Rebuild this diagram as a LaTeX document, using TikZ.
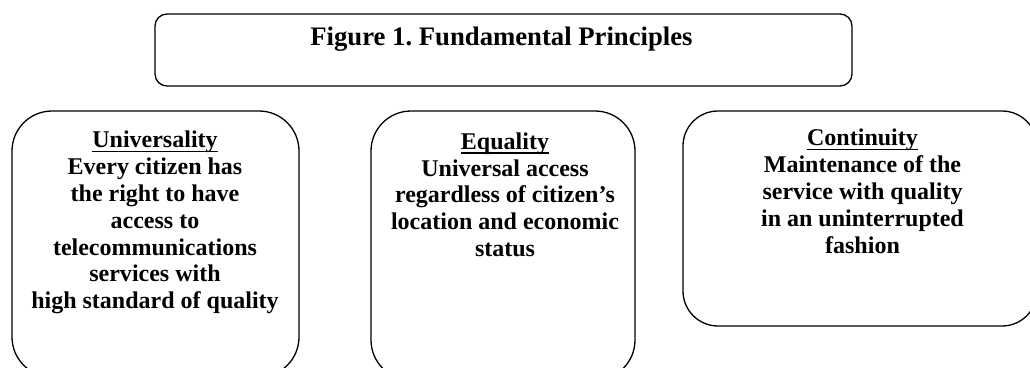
\documentclass[tikz,border=0pt]{standalone}
\usepackage{fontspec}
\setmainfont{Liberation Serif}
\frenchspacing
% underline drawn just below the baseline, crossing descenders
\newsavebox\ulbox
\newcommand\ulword[1]{\sbox\ulbox{#1}\rlap{\rule[-4.2pt]{\wd\ulbox}{1.4pt}}\usebox\ulbox}
\tikzset{
  card/.style={draw=black, line width=1.3pt, rounded corners=#1, inner sep=0pt, outer sep=0pt},
  body/.style={align=center, inner sep=0pt, anchor=north,
    font=\fontsize{24}{26.8}\selectfont\bfseries},
  heading/.style={inner sep=0pt, anchor=base,
    font=\fontsize{26.7}{30}\selectfont\bfseries}
}
\begin{document}
\begin{tikzpicture}[x=1pt, y=-1pt]
  \useasboundingbox (0,0) rectangle (1030,367);
  \clip (0,0) rectangle (1030,367);
  \fill[white] (0,0) rectangle (1030,367);

  % title box
  \node[card=12pt, minimum width=697pt, minimum height=72pt] (titlebox) at (503.5,50) {};
  \node[heading] (title) at (501.5,45) {Figure 1. Fundamental Principles};

  % three principle cards
  \node[card=40pt, minimum width=287pt, minimum height=266pt] (univ) at (155.5,244) {};
  \node[card=40pt, minimum width=264pt, minimum height=269pt] (equal) at (503,245.5) {};
  \node[card=35pt, minimum width=354pt, minimum height=215pt] (cont) at (860,218.5) {};

  \node[body] (univtext) at (155,131) {\ulword{Universality}\\Every citizen has\\the right to have\\access to\\telecommunications\\services with\\high standard of quality};
  \node[body] (equaltext) at (505,132.5) {\ulword{Equality}\\Universal access\\regardless of citizen’s\\location and economic\\status};
  \node[body] (conttext) at (862.5,129) {\ulword{Continuity}\\Maintenance of the\\service with quality\\in an uninterrupted\\fashion};
\end{tikzpicture}
\end{document}
